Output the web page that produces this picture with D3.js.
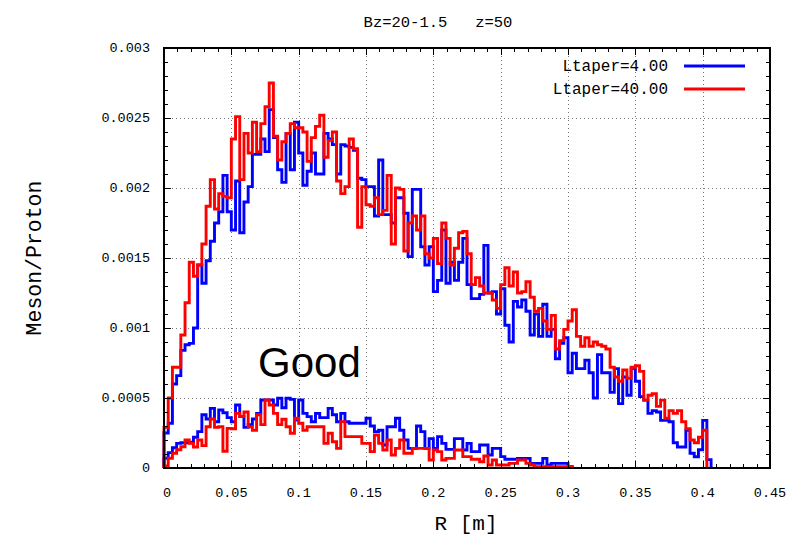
<!DOCTYPE html>
<html><head><meta charset="utf-8">
<script src="https://cdn.jsdelivr.net/npm/d3@7/dist/d3.min.js"></script>
<style>body{margin:0;background:#fff;} svg{display:block;}</style>
</head><body>
<svg id="c" width="799" height="538"></svg>
<script>
// ---- data ----
const binWidth = 0.003125;   // histogram bin width in R [m]
const xTicks = [0, 0.05, 0.1, 0.15, 0.2, 0.25, 0.3, 0.35, 0.4, 0.45];
const xTickLabels = ["0","0.05","0.1","0.15","0.2","0.25","0.3","0.35","0.4","0.45"];
const yTicks = [0, 0.0005, 0.001, 0.0015, 0.002, 0.0025, 0.003];
const yTickLabels = ["0","0.0005","0.001","0.0015","0.002","0.0025","0.003"];
const seriesNames = ["Ltaper=4.00", "Ltaper=40.00"];
const seriesColors = ["#0000ff", "#ff0000"];

const upperBlue = [0.00025,0.00032,0.0006,0.00066,0.00084,0.00088,0.00089,0.001,0.00145,0.00132,0.00148,0.00162,0.00175,0.00183,0.00209,0.00183,0.0017,0.00205,0.00168,0.0019,0.00201,0.00224,0.00224,0.00235,0.00226,0.00256,0.00236,0.00213,0.00204,0.00239,0.00213,0.00247,0.00225,0.00202,0.00212,0.00225,0.0021,0.0021,0.00239,0.00235,0.00231,0.0021,0.00231,0.0023,0.00229,0.00227,0.00207,0.00206,0.00201,0.00201,0.0018,0.0022,0.00181,0.00181,0.00175,0.00193,0.00193,0.00182,0.00151,0.00199,0.00199,0.00158,0.00145,0.00158,0.00126,0.00134,0.0017,0.00132,0.00147,0.00134,0.00147,0.00164,0.00131,0.00121,0.00121,0.00124,0.00159,0.00125,0.00126,0.0011,0.00128,0.00102,0.0009,0.00119,0.00115,0.0012,0.00112,0.00095,0.0011,0.00094,0.00117,0.00094,0.00099,0.00078,0.00089,0.00093,0.00068,0.00082,0.00071,0.00071,0.00077,0.00068,0.0005,0.00081,0.00068,0.00068,0.00054,0.00071,0.00046,0.00065,0.00052,0.00071,0.00062,0.00051,0.000485,0.00039,0.00041,0.0004,0.00034,0.00034,0.00033,0.00018,0.00015,0.00015,0.00027,0.000105,0.00008,0.00013,0.00034,0.00006];

const upperRed = [0.00029,0.0005,0.00072,0.00072,0.00095,0.00118,0.00147,0.00137,0.00145,0.0016,0.00187,0.00206,0.00185,0.00196,0.00194,0.00193,0.00235,0.00251,0.00206,0.00239,0.00225,0.00247,0.00226,0.00246,0.00258,0.00275,0.00237,0.0022,0.00233,0.00239,0.00246,0.00243,0.00243,0.0024,0.00219,0.00236,0.00244,0.00252,0.00222,0.00234,0.0024,0.00205,0.00196,0.00201,0.00235,0.00228,0.00172,0.00201,0.00188,0.00187,0.00193,0.00181,0.00184,0.00209,0.0016,0.002,0.00199,0.00155,0.00175,0.0018,0.0017,0.0018,0.00153,0.0015,0.00164,0.00146,0.00175,0.00164,0.00145,0.00157,0.00168,0.00169,0.00153,0.00131,0.00136,0.0013,0.00125,0.00125,0.0012,0.00114,0.00131,0.00143,0.0013,0.0014,0.00125,0.00126,0.00133,0.00122,0.00112,0.00114,0.00105,0.00099,0.00109,0.00085,0.00091,0.00099,0.00105,0.00113,0.00094,0.00087,0.00093,0.00087,0.0009,0.00088,0.00087,0.00085,0.00072,0.00065,0.00062,0.0007,0.00064,0.00072,0.00073,0.00069,0.000485,0.00052,0.00053,0.00044,0.000485,0.000355,0.00041,0.00039,0.00041,0.00033,0.00028,0.0002,0.00018,0.00022,0.00027];

const lowerBlue = [0.00007,0.00011,0.000145,0.000176,0.00018,0.00018,0.000185,0.00022,0.00026,0.00038,0.00035,0.000426,0.00033,0.000414,0.000395,0.00036,0.00033,0.00045,0.000367,0.00029,0.00031,0.00035,0.00039,0.000486,0.000486,0.000486,0.00045,0.000498,0.00043,0.000498,0.00049,0.000343,0.000486,0.00039,0.000367,0.00033,0.00039,0.00036,0.00036,0.000426,0.00038,0.00033,0.00039,0.00033,0.00032,0.00032,0.00032,0.00032,0.000355,0.0003,0.00026,0.00027,0.000164,0.000295,0.000295,0.000355,0.00027,0.0002,0.00014,0.00014,0.0003,0.00026,0.00014,0.00021,0.00014,0.000224,0.000176,0.000133,0.000133,0.00021,0.00021,0.000129,0.000176,0.000117,0.000117,0.000164,0.000164,0.000093,0.00014,0.00014,0.000081,0.000062,0.000062,0.000062,0.000069,0.000069,0.000069,0.000033,0.000033,0.000033,0.000069,0.000021,0.000033,0.000033,0.000033,0.000033,0.00001];

const lowerRed = [0.000015,0.00007,0.000105,0.00013,0.000152,0.0002,0.000176,0.00015,0.0002,0.00016,0.000295,0.00035,0.00029,0.000295,0.00012,0.000283,0.00028,0.00039,0.000367,0.0004,0.000295,0.00027,0.00038,0.00031,0.000486,0.00045,0.00039,0.00031,0.000348,0.000295,0.000248,0.000355,0.00032,0.00027,0.000295,0.000295,0.000295,0.000295,0.000176,0.000248,0.000188,0.00014,0.000331,0.000224,0.000224,0.000224,0.000224,0.000176,0.000176,0.000117,0.000236,0.000176,0.000129,0.0002,0.000093,0.00014,0.0002,0.000105,0.000105,0.00014,0.00014,0.00014,0.00014,0.000057,0.000129,0.000117,0.000057,0.000069,0.000069,0.000129,0.000129,0.000081,0.000081,0.000062,0.000062,0.000045,0.000086,0.000021,0.000057,0.000021,0.000021,0.000021,0.000033,0.000033,0.000057,0.000057,0.000033,0.000021,0.00001,0.00001,0.00001,0.00001,0.00001,0.00001,0.00001,0.00001,0.00001];

// ---- drawing ----
const svg = d3.select("#c");
const L = 164, R = 770, T = 48, B = 468;
const x = d3.scaleLinear().domain([0, 0.45]).range([L, R]);
const y = d3.scaleLinear().domain([0, 0.003]).range([B, T]);
const mono = "'Liberation Mono','DejaVu Sans Mono',monospace";

svg.append("rect").attr("width", 799).attr("height", 538).attr("fill", "#fff");

// grid
const grid = svg.append("g").attr("stroke", "#777").attr("stroke-width", 1).attr("stroke-dasharray", "1,3");
xTicks.slice(1, -1).forEach(t => grid.append("line").attr("x1", Math.round(x(t)) + 0.5).attr("x2", Math.round(x(t)) + 0.5).attr("y1", T).attr("y2", B));
yTicks.slice(1, -1).forEach(t => grid.append("line").attr("y1", Math.round(y(t)) + 0.5).attr("y2", Math.round(y(t)) + 0.5).attr("x1", L).attr("x2", R));

// step histograms
function stepPoints(vals) {
  const pts = [[0, 0]];
  vals.forEach((v, i) => { pts.push([i * binWidth, v]); });
  pts.push([vals.length * binWidth, vals[vals.length - 1]]);
  pts.push([vals.length * binWidth, 0]);
  return pts;
}
const line = d3.line().x(d => x(d[0])).y(d => y(d[1])).curve(d3.curveStepAfter);
const plotG = svg.append("g").attr("fill", "none").attr("stroke-width", 2.9).attr("stroke-linejoin", "miter");
[[upperBlue, 0], [lowerBlue, 0], [upperRed, 1], [lowerRed, 1]].forEach(([vals, k]) => {
  plotG.append("path").attr("d", line(stepPoints(vals))).attr("stroke", seriesColors[k]);
});

// ticks (inward, all sides)
const tk = svg.append("g").attr("stroke", "#000").attr("stroke-width", 1);
const xMinor = d3.range(0, 0.4501, 0.01);
xMinor.forEach(t => {
  const isMajor = xTicks.some(m => Math.abs(m - t) < 1e-9);
  const len = isMajor ? 7 : 4;
  const px = Math.round(x(t)) + 0.5;
  tk.append("line").attr("x1", px).attr("x2", px).attr("y1", B).attr("y2", B - len);
  tk.append("line").attr("x1", px).attr("x2", px).attr("y1", T).attr("y2", T + len);
});
const yMinor = d3.range(0, 0.003001, 0.0001);
yMinor.forEach(t => {
  const isMajor = yTicks.some(m => Math.abs(m - t) < 1e-12);
  const len = isMajor ? 7 : 4;
  const py = Math.round(y(t)) + 0.5;
  tk.append("line").attr("y1", py).attr("y2", py).attr("x1", L).attr("x2", L + len);
  tk.append("line").attr("y1", py).attr("y2", py).attr("x1", R).attr("x2", R - len);
});

// frame
svg.append("rect").attr("x", L).attr("y", T).attr("width", R - L).attr("height", B - T)
  .attr("fill", "none").attr("stroke", "#000").attr("stroke-width", 2);

// tick labels
svg.append("g").selectAll("text").data(xTicks).join("text")
  .attr("x", d => x(d) + (d === 0 ? 3 : 0)).attr("y", 497).attr("text-anchor", "middle")
  .attr("font-family", mono).attr("font-size", 13.5).text((d, i) => xTickLabels[i]);
svg.append("g").selectAll("text").data(yTicks).join("text")
  .attr("x", 150).attr("y", d => y(d) + 4).attr("text-anchor", "end")
  .attr("font-family", mono).attr("font-size", 13.5).text((d, i) => yTickLabels[i]);

// title & axis labels
svg.append("text").attr("x", 438).attr("y", 27).attr("text-anchor", "middle")
  .attr("font-family", mono).attr("font-size", 15.5).attr("xml:space", "preserve")
  .style("white-space", "pre").text("Bz=20-1.5   z=50");
svg.append("text").attr("x", 466).attr("y", 530).attr("text-anchor", "middle")
  .attr("font-family", mono).attr("font-size", 21).text("R [m]");
svg.append("text").attr("transform", "translate(41,258) rotate(-90)").attr("text-anchor", "middle")
  .attr("font-family", mono).attr("font-size", 21.5).text("Meson/Proton");

// legend
seriesNames.forEach((name, i) => {
  const ly = 66 + i * 23;
  svg.append("text").attr("x", 668).attr("y", ly + 5).attr("text-anchor", "end")
    .attr("font-family", mono).attr("font-size", 16).text(name);
  svg.append("line").attr("x1", 684).attr("x2", 745).attr("y1", ly).attr("y2", ly)
    .attr("stroke", seriesColors[i]).attr("stroke-width", 2.9);
});

// annotation
svg.append("text").attr("x", 258).attr("y", 377).attr("font-family", "'Liberation Sans',Arial,sans-serif")
  .attr("font-size", 42).attr("fill", "#000").text("Good");
</script>
</body></html>
